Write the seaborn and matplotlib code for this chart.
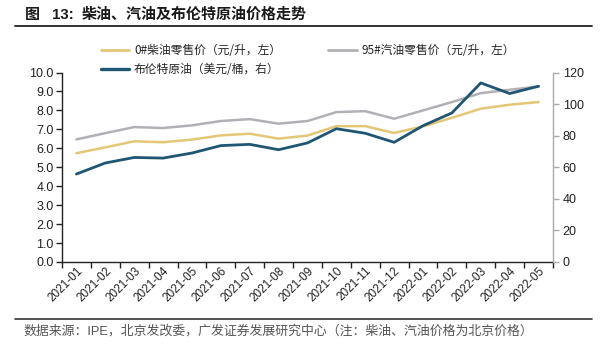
import matplotlib
matplotlib.use("Agg")
import matplotlib.pyplot as plt
from matplotlib.lines import Line2D
from matplotlib.ticker import FixedLocator, NullFormatter, FixedFormatter
import seaborn as sns
import pandas as pd
import numpy as np

months = ["2021-01", "2021-02", "2021-03", "2021-04", "2021-05", "2021-06",
          "2021-07", "2021-08", "2021-09", "2021-10", "2021-11", "2021-12",
          "2022-01", "2022-02", "2022-03", "2022-04", "2022-05"]
diesel = [5.74, 6.05, 6.37, 6.32, 6.46, 6.68, 6.77, 6.51, 6.67, 7.17, 7.17,
          6.81, 7.16, 7.61, 8.09, 8.30, 8.44]
gasoline = [6.47, 6.80, 7.12, 7.07, 7.21, 7.44, 7.54, 7.30, 7.44, 7.91, 7.96,
            7.56, 8.00, 8.44, 8.91, 9.09, 9.26]
brent = [55.7, 62.7, 66.2, 65.8, 69.0, 73.7, 74.5, 71.1, 75.4, 84.4, 81.5,
         75.8, 86.3, 94.4, 113.4, 106.7, 111.3]
left_ticks = [0, 1, 2, 3, 4, 5, 6, 7, 8, 9, 10]
right_ticks = [0, 20, 40, 60, 80, 100, 120]

labels = ["0#柴油零售价（元/升，左）", "95#汽油零售价（元/升，左）", "布伦特原油（美元/桶，右）"]
title_fig = "图"
title_num = "13:"
title_main = "柴油、汽油及布伦特原油价格走势"
source = "数据来源：IPE，北京发改委，广发证券发展研究中心（注：柴油、汽油价格为北京价格）"

sns.set_theme(style="white")
plt.rcParams["font.family"] = ["Liberation Sans", "Noto Sans CJK SC", "DejaVu Sans"]
plt.rcParams["axes.unicode_minus"] = False

c_diesel = "#E3C676"
c_gas = "#B2B0B6"
c_brent = "#1E5674"

df = pd.DataFrame({"x": np.arange(len(months)), "month": months,
                   "diesel": diesel, "gasoline": gasoline, "brent": brent})

fig = plt.figure(figsize=(6, 3.5), dpi=100)
ax = fig.add_axes([62 / 600, 1 - 262 / 350, (553 - 62) / 600, (262 - 72.5) / 350])
ax2 = ax.twinx()

sns.lineplot(data=df, x="x", y="diesel", ax=ax, color=c_diesel, linewidth=1.8)
sns.lineplot(data=df, x="x", y="gasoline", ax=ax, color=c_gas, linewidth=1.8)
sns.lineplot(data=df, x="x", y="brent", ax=ax2, color=c_brent, linewidth=2.0)

n = len(months)
ax.set_xlim(-0.5, n - 0.5)
ax.set_ylim(0, 10)
ax2.set_ylim(0, 120)
ax.set_xlabel("")
ax.set_ylabel("")
ax2.set_ylabel("")

# x ticks: marks at boundaries, labels at centers
ax.xaxis.set_major_locator(FixedLocator(np.arange(-0.5, n, 1.0)))
ax.xaxis.set_major_formatter(NullFormatter())
ax.xaxis.set_minor_locator(FixedLocator(np.arange(n)))
ax.xaxis.set_minor_formatter(FixedFormatter(months))
ax.tick_params(axis="x", which="major", direction="out", length=4, width=1,
               color="#222222", bottom=True)
ax.tick_params(axis="x", which="minor", length=0, labelsize=8.5, pad=2,
               labelcolor="#222222")
for lbl in ax.get_xticklabels(minor=True):
    lbl.set_rotation(45)
    lbl.set_ha("right")
    lbl.set_rotation_mode("anchor")

ax.set_yticks(left_ticks)
ax.set_yticklabels([f"{v:.1f}" for v in left_ticks])
ax.tick_params(axis="y", direction="out", length=4, width=1, color="#222222",
               left=True, labelsize=9, labelcolor="#222222", pad=2)
ax2.set_yticks(right_ticks)
ax2.set_yticklabels([str(v) for v in right_ticks])
ax2.tick_params(axis="y", direction="out", length=4, width=1, color="#AAAAAA",
                right=True, labelsize=9, labelcolor="#222222", pad=3)

for a in (ax, ax2):
    a.spines["top"].set_visible(False)
ax.spines["left"].set_color("#222222")
ax.spines["bottom"].set_color("#222222")
ax.spines["left"].set_linewidth(1.0)
ax.spines["bottom"].set_linewidth(1.0)
ax.spines["right"].set_visible(False)
ax2.spines["left"].set_visible(False)
ax2.spines["bottom"].set_visible(False)
ax2.spines["right"].set_color("#AAAAAA")
ax2.spines["right"].set_linewidth(1.0)

# legend
h1 = Line2D([], [], color=c_diesel, linewidth=2)
h2 = Line2D([], [], color=c_gas, linewidth=2)
h3 = Line2D([], [], color=c_brent, linewidth=2.4)
fig.legend([h1, h3, h2], [labels[0], labels[2], labels[1]], ncol=2,
           loc="upper left", bbox_to_anchor=(95 / 600, 1 - 38.5 / 350),
           frameon=False, handlelength=2.4, handletextpad=0.4,
           columnspacing=4.0, labelspacing=0.5, borderpad=0,
           prop={"family": ["Noto Sans CJK SC"], "size": 8.5})

# title, rules and source
tkw = dict(fontsize=10.8, fontweight="bold", va="center", ha="left",
           color="#1a1a1a", family=["Liberation Sans", "Noto Sans CJK SC"])
fig.text(25 / 600, 1 - 15 / 350, title_fig, **tkw)
fig.text(52 / 600, 1 - 15 / 350, title_num, **tkw)
fig.text(82 / 600, 1 - 15 / 350, title_main, **tkw)
fig.add_artist(Line2D([15 / 600, 592 / 600], [1 - 25.7 / 350, 1 - 25.7 / 350],
                      color="#333333", linewidth=1.4, transform=fig.transFigure))
fig.add_artist(Line2D([15 / 600, 592 / 600], [1 - 319 / 350, 1 - 319 / 350],
                      color="#333333", linewidth=1.2, transform=fig.transFigure))
fig.text(23 / 600, 1 - 331.5 / 350, source, fontsize=9.3, va="center", ha="left",
         color="#555555", family=["Liberation Sans", "Noto Sans CJK SC"])

fig.savefig("out.png", dpi=100)
